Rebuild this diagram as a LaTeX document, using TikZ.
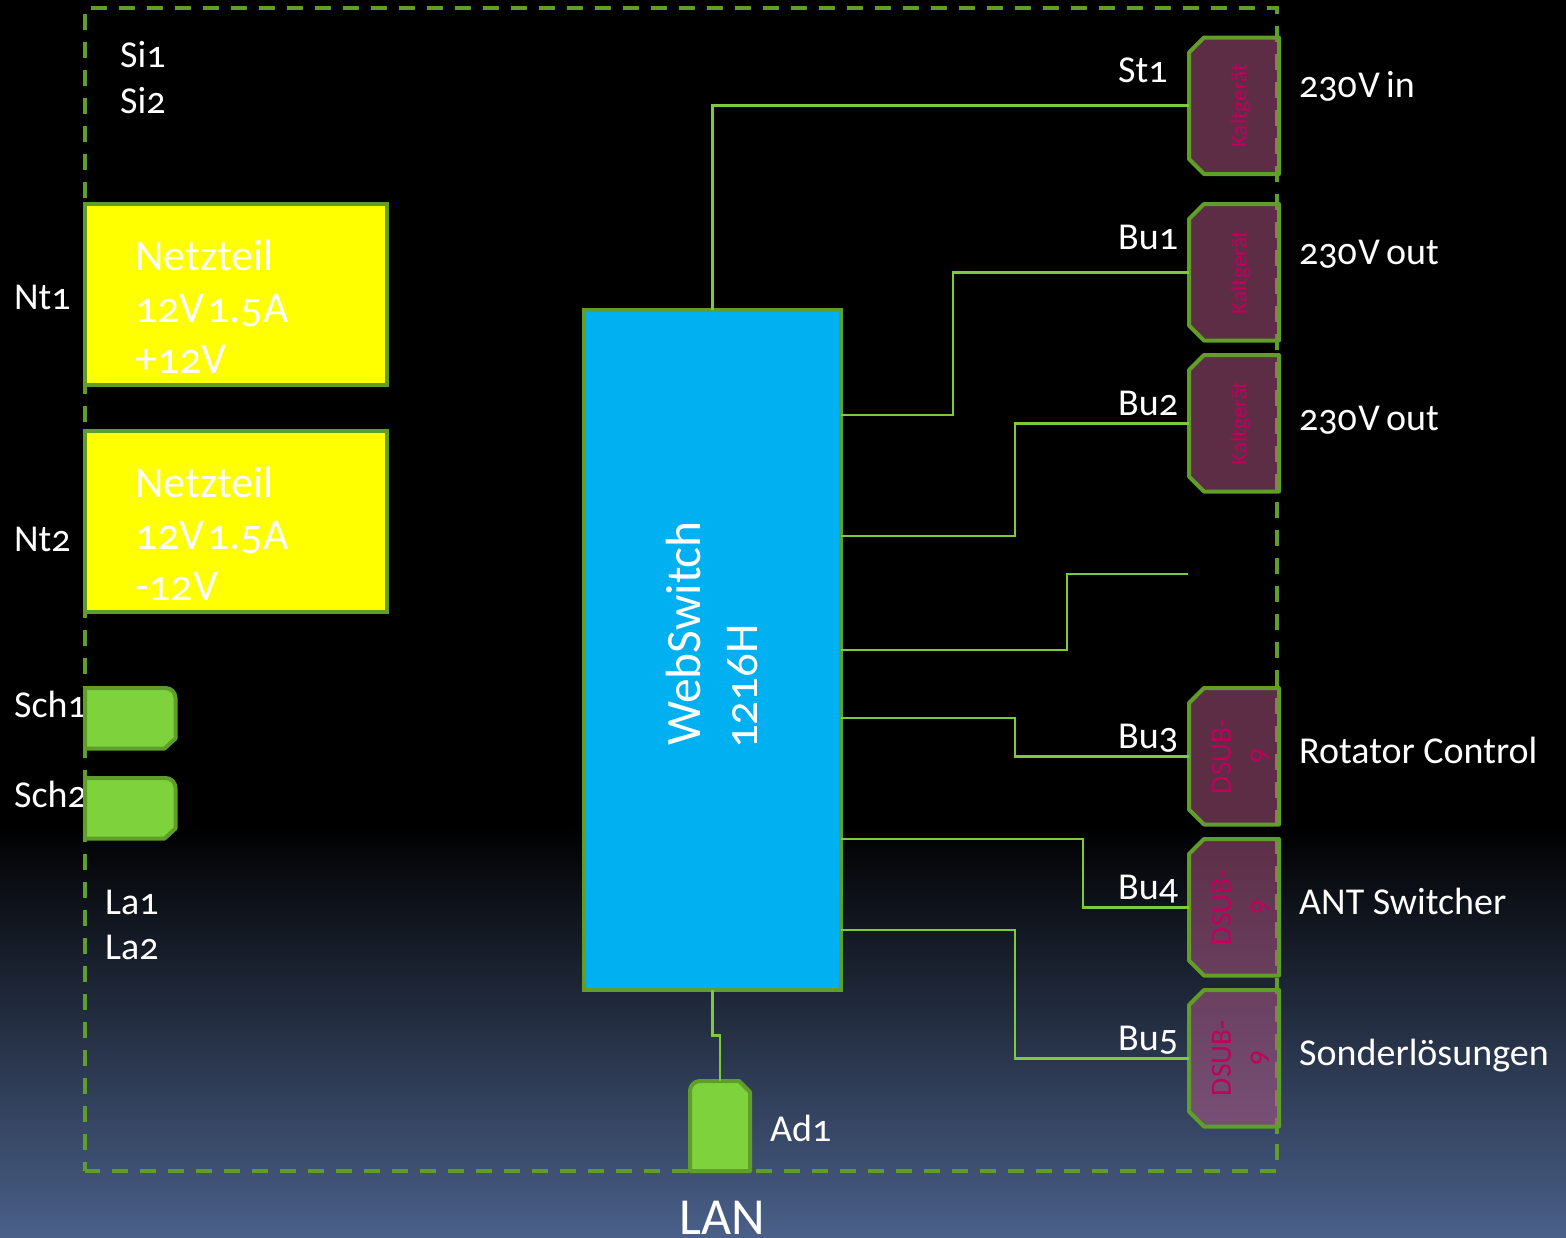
\documentclass[tikz,border=0pt]{standalone}
\usepackage{fontspec}
\setmainfont[Numbers=OldStyle]{Carlito}
\usetikzlibrary{calc}
\definecolor{frame}{HTML}{5F9E28}
\definecolor{wire}{HTML}{7CCB3C}
\definecolor{plugfill}{HTML}{B85A8A}
\definecolor{plugtext}{HTML}{C0005C}
\definecolor{bright}{HTML}{7ED23C}
\definecolor{wsblue}{HTML}{00B0F0}
\definecolor{bgend}{HTML}{4A6089}
\definecolor{psuyellow}{HTML}{FFFF00}
\tikzset{
  x=1pt,y=-1pt,
  label text/.style={text=white,font=\fontsize{38}{38}\selectfont,anchor=base west,inner sep=0pt},
  psu text/.style={text=white,font=\fontsize{44}{51.5}\selectfont,anchor=north west,inner sep=0pt,align=left},
  psu/.style={draw=frame,line width=4pt,fill=psuyellow,anchor=north west,minimum width=302pt,minimum height=181pt,inner sep=0pt,outer sep=0pt},
  plug box/.style={minimum width=90pt,minimum height=136.5pt,inner sep=0pt,outer sep=0pt,anchor=north west},
  plug shape/.style={draw=frame,line width=4pt,fill=plugfill,fill opacity=0.5,draw opacity=1,line join=round},
  plug text/.style={text=plugtext,rotate=90,align=center,inner sep=0pt},
  wired/.style={draw=wire,line width=2.6pt},
  outline/.style={draw=frame,line width=4pt,fill=bright,line join=round},
  dashframe/.style={draw=frame,line width=3.8pt,dash pattern=on 16pt off 12pt},
  switchbox/.style={draw=frame,line width=4pt,fill=wsblue,anchor=north west,minimum width=257pt,minimum height=680pt,inner sep=0pt,outer sep=0pt},
}
\newcommand{\plugat}[4]{%
  \node[plug box] (#1) at (1189,#2) {};
  \draw[plug shape] ($(#1.north west)+(15,0)$) -- (#1.north east) -- (#1.south east) -- ($(#1.south west)+(15,0)$) -- ($(#1.south west)+(0,-15)$) -- ($(#1.north west)+(0,15)$) -- cycle;
  \node[plug text,font=\fontsize{#4}{35.5}\selectfont] (#1t) at ($(#1.center)+(6.5,0)$) {#3};}
\begin{document}
\begin{tikzpicture}
\useasboundingbox (0,0) rectangle (1566,1237);
\fill[black] (0,0) rectangle (1566,826);
\shade[top color=black,bottom color=bgend] (0,826) rectangle (1566,1237);
\coordinate (fbl) at (85,1171);
\coordinate (ftl) at (85,8);
\coordinate (ftr) at (1277,8);
\coordinate (fbr) at (1277,1171);
\draw[dashframe,dash phase=7pt] (fbl) -- (ftl) -- (ftr) -- ($(fbr)+(0,-37)$);
\draw[dashframe] ($(fbr)+(0,-27)$) -- (fbr) -- (fbl);

\node[label text] (si1) at (120,67) {Si1};
\node[label text] (si2) at (120,113) {Si2};
\node[label text] (nt1) at (14,309) {Nt1};
\node[label text] (nt2) at (14,551) {Nt2};
\node[label text] (sch1l) at (14,717) {Sch1};
\node[label text] (sch2l) at (14,807) {Sch2};
\node[label text] (la1) at (105,914) {La1};
\node[label text] (la2) at (105,959) {La2};

\node[psu] (p1) at (85,204) {};
\node[psu] (p2) at (85,431) {};
\node[psu text] (p1t) at (135,240) {Netzteil\\12V\hspace{.06em}1.5A\\+12V};
\node[psu text] (p2t) at (135,467) {Netzteil\\12V\hspace{.06em}1.5A\\-12V};

\foreach \n/\y in {s1/688,s2/778}{
  \node[inner sep=0pt,outer sep=0pt,minimum width=90.5pt,minimum height=60.5pt,anchor=north west] (\n) at (85,\y) {};
  \draw[outline] (\n.north west) -- ($(\n.north east)+(-10,0)$) arc[start angle=90,end angle=0,radius=10pt] -- ($(\n.south east)+(0,-10)$) -- ($(\n.south east)+(-11,0)$) -- (\n.south west) -- cycle;
}

\node[switchbox] (ws) at (584,310) {};
\node[rotate=90,text=white,font=\fontsize{49.5}{57}\selectfont,align=left,inner sep=0pt] (wst) at (712,633.5) {WebSwitch\\\hspace{-.06em}{\fontsize{47}{57}\selectfont 1216H}};

\plugat{k1}{37.5}{Kaltgerät}{23}
\plugat{k2}{204}{Kaltgerät}{23}
\plugat{k3}{355}{Kaltgerät}{23}
\plugat{d1}{688}{DSUB-\\9}{29.5}
\plugat{d2}{839}{DSUB-\\9}{29.5}
\plugat{d3}{990}{DSUB-\\9}{29.5}

\node[inner sep=0pt,outer sep=0pt,minimum width=60pt,minimum height=90pt,anchor=north west] (ad) at (690,1081) {};
\draw[outline] (ad.south west) -- ($(ad.north west)+(0,10)$) arc[start angle=180,end angle=90,radius=10pt] -- ($(ad.north east)+(-11,0)$) -- ($(ad.north east)+(0,11)$) -- (ad.south east) -- cycle;

\coordinate (w1) at (841,415);
\coordinate (w2) at (841,536);
\coordinate (w3) at (841,650);
\coordinate (w4) at (841,718);
\coordinate (w5) at (841,839);
\coordinate (w6) at (841,930);
\coordinate (free) at (1188,574);
\draw[wired] (ws.north) |- (k1.west);
\draw[wired] (w1) -- ++(112,0) |- (k2.west);
\draw[wired] (w2) -- ++(174,0) |- (k3.west);
\draw[wired] (w3) -- ++(226,0) |- (free);
\draw[wired] (w4) -- ++(174,0) |- (d1.west);
\draw[wired] (w5) -- ++(242,0) |- (d2.west);
\draw[wired] (w6) -- ++(174,0) |- (d3.west);
\draw[wired] (ws.south) -- ++(0,45.5) -| (ad.north);

\node[label text] (st1) at (1118,82) {St1};
\node[label text] (bu1) at (1118,249) {Bu1};
\node[label text] (bu2) at (1118,415) {Bu2};
\node[label text] (bu3) at (1118,748) {Bu3};
\node[label text] (bu4) at (1118,899) {Bu4};
\node[label text] (bu5) at (1118,1050) {Bu5};
\node[label text] (o1) at (1299,97) {230\hspace{.04em}V\hspace{.16em}in};
\node[label text] (o2) at (1299,264) {230\hspace{.04em}V\hspace{.16em}out};
\node[label text] (o3) at (1299,430) {230\hspace{.04em}V\hspace{.16em}out};
\node[label text] (o4) at (1299,763) {Rotator Control};
\node[label text] (o5) at (1299,914) {ANT Switcher};
\node[label text] (o6) at (1299,1065) {Sonderlösungen};
\node[label text] (ad1) at (770,1141) {Ad1};
\node[label text,font=\fontsize{52}{52}\selectfont] (lan) at (679,1234) {LAN};
\end{tikzpicture}
\end{document}
